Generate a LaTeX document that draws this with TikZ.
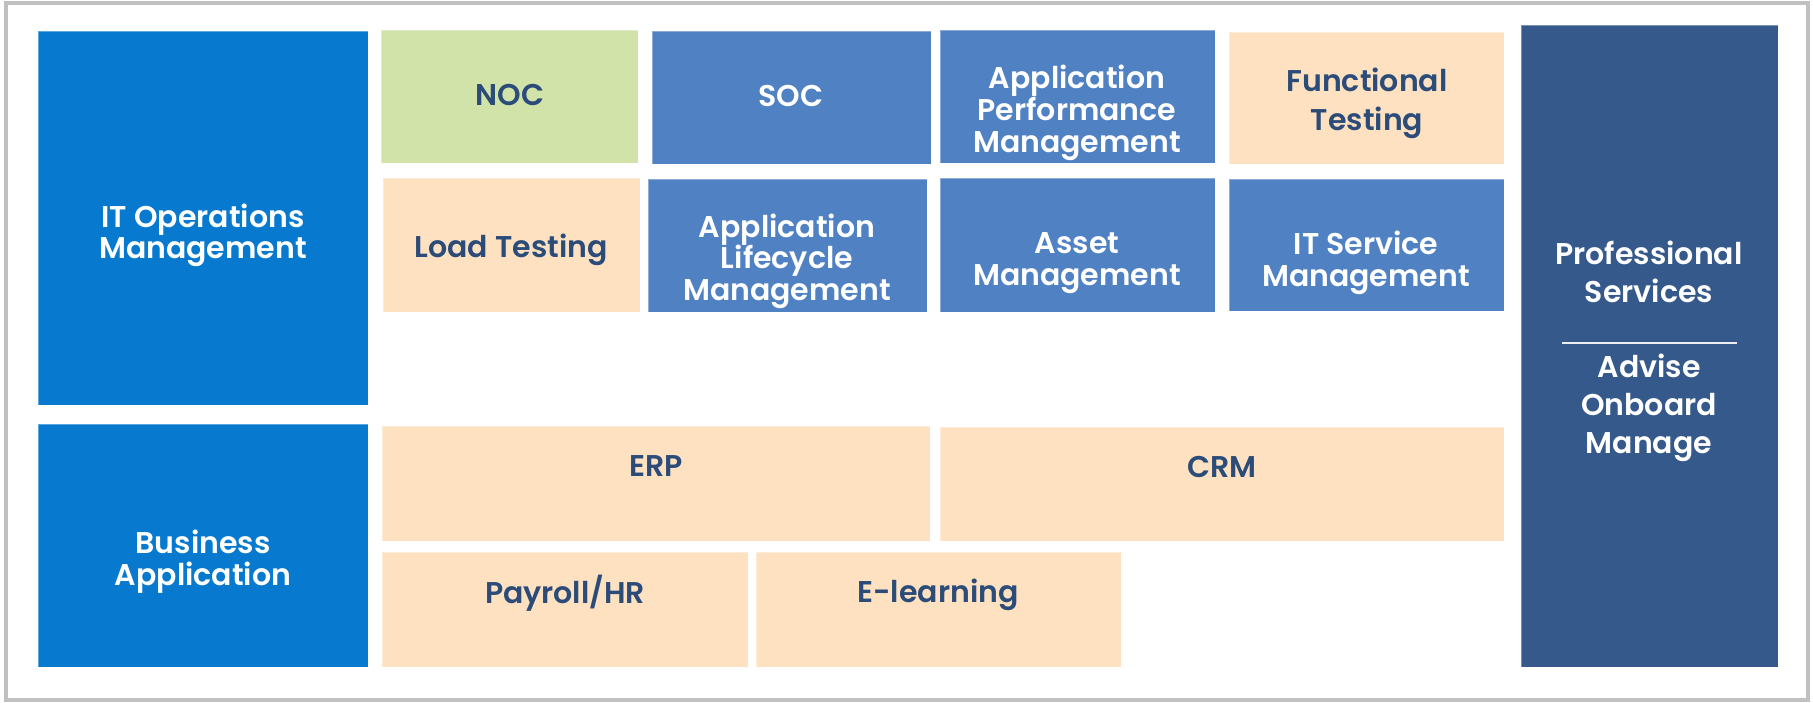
\documentclass[tikz,border=0pt]{standalone}
\usepackage{fontspec}
\setmainfont{Poppins}[BoldFont={Poppins SemiBold}]
\definecolor{opsblue}{HTML}{0779CF}
\definecolor{midblue}{HTML}{4F81C3}
\definecolor{navy}{HTML}{34598A}
\definecolor{lgreen}{HTML}{D1E3A8}
\definecolor{peach}{HTML}{FDE1C1}
\definecolor{txtnavy}{HTML}{2B4B78}
\definecolor{framegray}{HTML}{C0C0C0}
\tikzset{
  blk/.style={draw=white, draw opacity=0.35, line width=1pt, inner sep=0pt, outer sep=0pt},
  lbl/.style={anchor=base, align=center, inner sep=0pt, font=\bfseries\fontsize{30}{#1}\selectfont},
  lbl/.default=32,
  wtxt/.style={text=white},
  dtxt/.style={text=txtnavy}
}
\begin{document}
\begin{tikzpicture}[x=1pt,y=-1pt]
\useasboundingbox (0,0) rectangle (1813,702);
\draw[framegray, line width=4pt] (6,3) rectangle (1808,700);
% boxes
\node[blk, fill=opsblue, minimum width=330pt, minimum height=374pt] (itops) at (203,218) {};
\node[blk, fill=opsblue, minimum width=330pt, minimum height=243pt] (bizapp) at (203,545.5) {};
\node[blk, fill=lgreen, minimum width=257pt, minimum height=133pt] (noc) at (509.5,96.5) {};
\node[blk, fill=midblue, minimum width=279pt, minimum height=133pt] (soc) at (791.5,97.5) {};
\node[blk, fill=midblue, minimum width=275pt, minimum height=133pt] (apm) at (1077.5,96.5) {};
\node[blk, fill=peach, minimum width=275pt, minimum height=132pt] (func) at (1366.5,98) {};
\node[blk, fill=peach, minimum width=257pt, minimum height=134pt] (load) at (511.5,245) {};
\node[blk, fill=midblue, minimum width=279pt, minimum height=133pt] (alm) at (787.5,245.5) {};
\node[blk, fill=midblue, minimum width=275pt, minimum height=134pt] (asset) at (1077.5,245) {};
\node[blk, fill=midblue, minimum width=275pt, minimum height=132pt] (itsm) at (1366.5,245) {};
\node[blk, fill=peach, minimum width=548pt, minimum height=115pt] (erp) at (656,483.5) {};
\node[blk, fill=peach, minimum width=564pt, minimum height=114pt] (crm) at (1222,484) {};
\node[blk, fill=peach, minimum width=366pt, minimum height=115pt] (payroll) at (565,609.5) {};
\node[blk, fill=peach, minimum width=365pt, minimum height=115pt] (elearn) at (938.5,609.5) {};
\node[blk, fill=navy, minimum width=257pt, minimum height=642pt] (prof) at (1649.5,346) {};
% labels (anchor = baseline of the last line)
\node[lbl=31, wtxt] (itopsT) at (203,258) {IT Operations\\Management};
\node[lbl=32, wtxt] (bizT) at (203,585) {Business\\Application};
\node[lbl, dtxt] (nocT) at (510,105) {NOC};
\node[lbl, wtxt] (socT) at (791,106) {SOC};
\node[lbl=32, wtxt] (apmT) at (1077,152) {Application\\Performance\\Management};
\node[lbl=39, dtxt] (funcT) at (1367,130) {Functional\\Testing};
\node[lbl, dtxt] (loadT) at (511,257) {Load Testing};
\node[lbl=31.5, wtxt] (almT) at (787,300) {Application\\Lifecycle\\Management};
\node[lbl=32, wtxt] (assetT) at (1077,285) {Asset\\Management};
\node[lbl=32, wtxt] (itsmT) at (1366,286) {IT Service\\Management};
\node[lbl, dtxt] (erpT) at (656,476) {ERP};
\node[lbl, dtxt] (crmT) at (1222,477) {CRM};
\node[lbl, dtxt] (payT) at (565,603) {Payroll/HR};
\node[lbl, dtxt] (elT) at (938,602) {E-learning};
\node[lbl=38, wtxt] (profT) at (1649,302) {Professional\\Services};
\coordinate (sepL) at (1562,343);
\coordinate (sepR) at (1737,343);
\draw[white, line width=1.5pt, opacity=0.9] (sepL) -- (sepR);
\node[lbl=38, wtxt] (profT2) at (1649,453) {Advise\\Onboard\\Manage};
\end{tikzpicture}
\end{document}
